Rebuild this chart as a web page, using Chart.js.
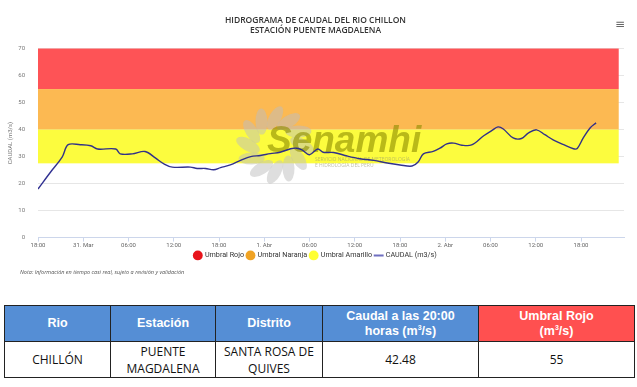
<!DOCTYPE html>
<html>
<head>
<meta charset="utf-8">
<script src="https://cdn.jsdelivr.net/npm/chart.js@4.4.1/dist/chart.umd.min.js"></script>
<style>
  body { margin: 0; background: #fff; width: 637px; height: 387px; overflow: hidden; position: relative; }
  #wrap { position: absolute; left: 0; top: 0; width: 637px; height: 269px; }
  #menu { position: absolute; left: 615px; top: 17px; font: 12px 'DejaVu Sans'; color: #666; }
  #nota { position: absolute; left: 20px; top: 268px; font: italic 5.5px 'Open Sans'; color: #555; }
  table { position: absolute; left: 4px; top: 305px; width: 630px; border-collapse: collapse; table-layout: fixed; }
  th, td { border: 1px solid #222; text-align: center; padding: 0; }
  th { background: #558ed5; color: #fff; font: bold 12.5px 'Liberation Sans Narrow', 'Liberation Sans'; height: 35px; line-height: 15px; }
  th.rojo { background: #ff5050; }
  td { font: 12px 'Open Sans'; color: #111; height: 35px; line-height: 17px; }
  sup { font-size: 7px; line-height: 0; }
</style>
</head>
<body>
<div id="wrap"><canvas id="chart" width="637" height="269"></canvas></div>
<div id="menu">&#8801;</div>
<div id="nota">Nota: Información en tiempo casi real, sujeto a revisión y validación</div>
<table>
  <colgroup><col style="width:106px"><col style="width:105px"><col style="width:107px"><col style="width:156px"><col style="width:156px"></colgroup>
  <tr><th>Rio</th><th>Estación</th><th>Distrito</th><th>Caudal a las 20:00<br>horas (m<sup>3</sup>/s)</th><th class="rojo">Umbral Rojo<br>(m<sup>3</sup>/s)</th></tr>
  <tr><td>CHILLÓN</td><td>PUENTE<br>MAGDALENA</td><td>SANTA ROSA DE<br>QUIVES</td><td>42.48</td><td>55</td></tr>
</table>
<script>
// horas desde 30 Mar 18:00
var hours = [0, 1.7, 3.2, 4.0, 5.6, 7.0, 7.9, 10.3, 10.9, 12.5, 14.2, 15.6, 16.7, 17.8, 20.2, 21.1, 22.2, 23.3, 24.2, 25.5,
  27.0, 28.2, 29.5, 30.8, 32.1, 33.5, 34.3, 35.0, 36.0, 37.1, 37.8, 39.2, 41.0, 42.7, 44.5, 46.3, 48.0, 49.6, 50.4, 51.1,
  52.4, 53.3, 54.2, 55.1, 56.2, 57.5, 59.1, 60.2, 61.0, 61.7, 63.0, 64.1, 65.0, 66.1, 67.2, 68.3, 69.7, 71.0, 71.5, 72.3, 73.2, 74.0];
var caudal = [18.0, 24.4, 29.8, 34.4, 34.4, 34.0, 32.8, 32.8, 31.0, 31.0, 31.9, 29.4, 27.3, 26.1, 26.1, 25.6, 25.6, 25.1, 25.9, 26.9,
  28.8, 30.0, 30.4, 31.1, 31.6, 32.9, 33.1, 32.5, 30.7, 32.8, 31.6, 31.5, 30.2, 29.2, 28.6, 27.6, 26.9, 26.5, 28.0, 31.0,
  31.9, 33.1, 34.7, 35.0, 34.2, 34.3, 37.7, 39.7, 41.0, 40.2, 36.9, 36.7, 38.7, 39.9, 38.1, 36.2, 34.4, 32.9, 33.0, 36.9, 40.6, 42.48];

var tickLabels = ['18:00', '31. Mar', '06:00', '12:00', '18:00', '1. Abr', '06:00', '12:00', '18:00', '2. Abr', '06:00', '12:00', '18:00'];

// umbrales
var bandNames = ['Umbral Rojo', 'Umbral Naranja', 'Umbral Amarillo'];
var bandLow = [55, 40, 27.5];
var bandHigh = [70, 55, 40];
var bandEnd = 77;
var bandColors = ['#fe5356', '#fcb952', '#fcfc3e'];
var dotColors = ['#e8141b', '#f0a324', '#ffff33'];

var lineColor = 'rgba(38,38,140,0.95)';

var bandsPlugin = {
  id: 'bands',
  beforeDatasetsDraw: function(chart) {
    var c = chart.ctx, x = chart.scales.x, y = chart.scales.y;
    var x0 = x.getPixelForValue(0), x1 = x.getPixelForValue(bandEnd);
    c.save();
    for (var i = 0; i < bandLow.length; i++) {
      var top = y.getPixelForValue(bandHigh[i]), bot = y.getPixelForValue(bandLow[i]);
      c.fillStyle = bandColors[i];
      c.fillRect(x0, top, x1 - x0, bot - top);
    }
    // marca de agua
    var cx = 275, cy = 145;
    c.fillStyle = 'rgba(190,190,190,0.5)';
    for (var k = 0; k < 12; k++) {
      var a = k * Math.PI / 6;
      c.save();
      c.translate(cx + Math.cos(a) * 27, cy + Math.sin(a) * 27);
      c.rotate(a + 0.5);
      c.beginPath();
      c.ellipse(0, 0, 13, 6, 0, 0, Math.PI * 2);
      c.fill();
      c.restore();
    }
    c.fillStyle = 'rgba(140,140,0,0.6)';
    c.font = 'italic bold 37px "Liberation Sans"';
    c.textBaseline = 'alphabetic';
    c.fillText('Senamhi', 267, 152);
    c.fillStyle = 'rgba(150,150,110,0.6)';
    c.font = '5px "Open Sans"';
    c.fillText('SERVICIO NACIONAL DE METEOROLOGÍA', 315, 161);
    c.fillText('E HIDROLOGÍA DEL PERÚ', 315, 167);
    c.restore();
  }
};

new Chart(document.getElementById('chart'), {
  type: 'line',
  data: {
    datasets: [{
      label: 'CAUDAL (m3/s)',
      data: hours.map(function(h, i) { return { x: h, y: caudal[i] }; }),
      borderColor: lineColor,
      backgroundColor: lineColor,
      borderWidth: 1.4,
      pointRadius: 0,
      tension: 0.35,
      fill: false
    }]
  },
  options: {
    responsive: false,
    animation: false,
    layout: { padding: { left: 7, right: 13, top: 0, bottom: 0 } },
    plugins: {
      title: {
        display: true,
        text: ['HIDROGRAMA DE CAUDAL DEL RIO CHILLON', 'ESTACIÓN PUENTE MAGDALENA'],
        color: '#333',
        font: { family: 'Open Sans', size: 8.5, weight: '600', lineHeight: 1.15 },
        padding: { top: 16, bottom: 13 }
      },
      legend: {
        position: 'bottom',
        labels: {
          color: '#333',
          font: { family: 'Roboto', size: 7.2 },
          usePointStyle: true,
          boxWidth: 7,
          boxHeight: 7,
          padding: 3,
          generateLabels: function(chart) {
            var items = bandNames.map(function(n, i) {
              return { text: n, fillStyle: dotColors[i], strokeStyle: dotColors[i], lineWidth: 0, pointStyle: 'circle', fontColor: '#333' };
            });
            items.push({ text: 'CAUDAL (m3/s)', fillStyle: '#6f6fc0', strokeStyle: '#6f6fc0', lineWidth: 2, pointStyle: 'line', fontColor: '#333', datasetIndex: 0 });
            return items;
          }
        }
      },
      tooltip: { enabled: false }
    },
    scales: {
      x: {
        type: 'linear',
        min: 0,
        max: 77.7,
        afterBuildTicks: function(scale) {
          scale.ticks = tickLabels.map(function(t, i) { return { value: i * 6 }; });
        },
        ticks: {
          color: '#666',
          font: { family: 'Roboto', size: 6 },
          maxRotation: 0,
          autoSkip: false,
          padding: 0,
          callback: function(v) { return tickLabels[Math.round(v / 6)]; }
        },
        grid: { display: true, drawOnChartArea: false, drawTicks: true, tickLength: 4, color: '#ccd6eb' },
        border: { color: '#ccd6eb' }
      },
      y: {
        min: 0,
        max: 70,
        afterFit: function(scale) { scale.width = 31; },
        ticks: { stepSize: 10, color: '#777', font: { family: 'Roboto', size: 6 }, padding: 13 },
        grid: { color: '#e6e6e6', drawTicks: false },
        border: { display: false },
        title: { display: true, text: 'CAUDAL (m3/s)', color: '#777', font: { family: 'Roboto', size: 6 }, padding: 0 }
      }
    }
  },
  plugins: [bandsPlugin]
});
</script>
</body>
</html>
